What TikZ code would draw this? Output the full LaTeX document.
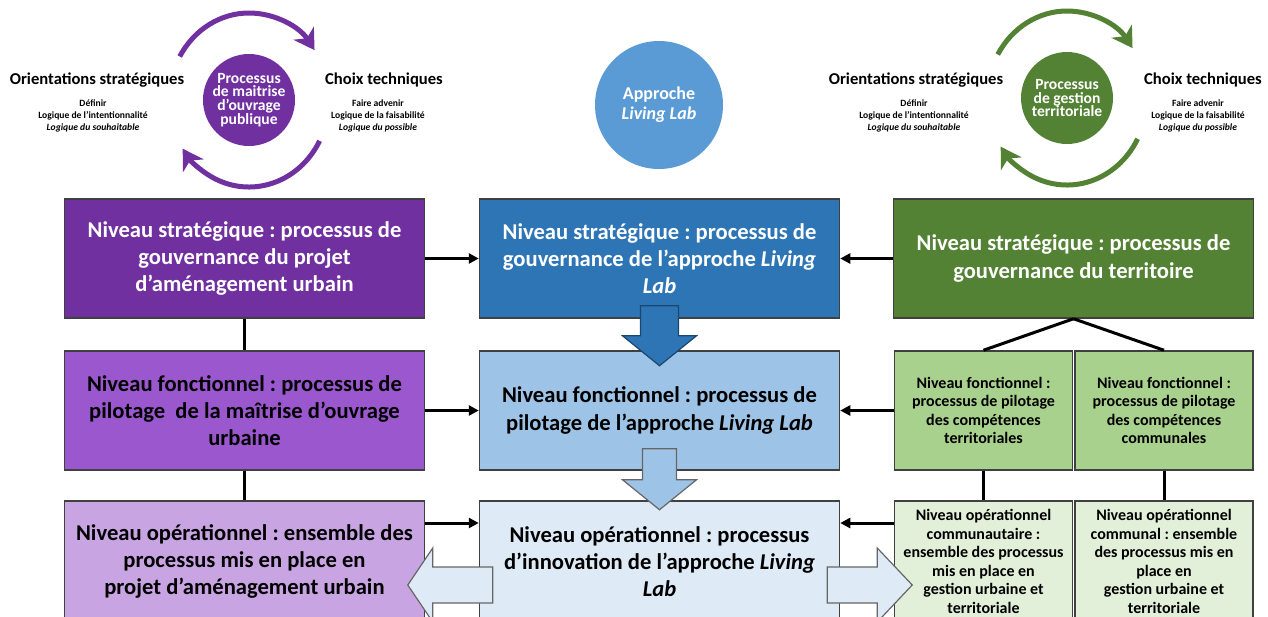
\documentclass[tikz,border=0pt]{standalone}
\usepackage{fontspec}
\setmainfont{Carlito}
\usetikzlibrary{arrows.meta}
\frenchspacing

\definecolor{violetA}{HTML}{7030A0}
\definecolor{violetB}{HTML}{9B58CE}
\definecolor{violetC}{HTML}{C9A4E2}
\definecolor{bleuA}{HTML}{2E75B6}
\definecolor{bleuB}{HTML}{9DC3E6}
\definecolor{bleuC}{HTML}{DEEBF7}
\definecolor{bleuRond}{HTML}{5B9BD5}
\definecolor{vertA}{HTML}{548235}
\definecolor{vertB}{HTML}{A9D18E}
\definecolor{vertC}{HTML}{E2F0D9}
\definecolor{trait}{HTML}{404040}

\tikzset{
  niveau/.style={draw=trait, line width=0.75pt, minimum width=180pt, minimum height=59.5pt,
    align=center, inner sep=2pt, font=\fontsize{11.3}{13.6}\selectfont\bfseries},
  petitniveau/.style={niveau, minimum width=89pt, font=\fontsize{8}{9.3}\selectfont\bfseries},
  rond/.style={circle, inner sep=0pt, text=white, align=center},
  titre/.style={font=\fontsize{8.3}{10}\selectfont\bfseries},
  note/.style={align=center, font=\fontsize{4.8}{5.8}\selectfont\bfseries},
  lien/.style={line width=1.5pt},
  fleche/.style={line width=1.5pt, -{Triangle[length=5pt,width=5pt]}},
  tour/.style={line width=2.5pt, -{Stealth[length=10pt,width=12pt,inset=3pt]}},
}

\begin{document}
\begin{tikzpicture}[x=0.5pt,y=-0.5pt]
\useasboundingbox (0,0) rectangle (1268,616);

% Cycle maitrise d'ouvrage
\node[rond, fill=violetA, minimum size=46pt, font=\fontsize{7.8}{6.9}\selectfont\bfseries] (pcirc) at (249,100) {Processus\\de maitrise\\d’ouvrage\\publique};
\node[titre] (porient) at (97,80) {Orientations stratégiques};
\node[note] (pdef) at (93,116) {Définir\\Logique de l’intentionnalité\\\textit{Logique du souhaitable}};
\node[titre] (pchoix) at (384,80) {Choix techniques};
\node[note] (pfaire) at (378,116) {Faire advenir\\Logique de la faisabilité\\\textit{Logique du possible}};
\draw[tour, violetA] ([shift={(150:40pt and 43.5pt)}]pcirc.center) arc[start angle=150, end angle=35, x radius=40pt, y radius=43.5pt];
\draw[tour, violetA] ([shift={(-28:40pt and 43.5pt)}]pcirc.center) arc[start angle=-28, end angle=-146, x radius=40pt, y radius=43.5pt];

% Approche Living Lab
\node[rond, fill=bleuRond, minimum size=64pt, font=\fontsize{9}{10}\selectfont\bfseries] (lcirc) at (659,105) {Approche\\\textit{Living Lab}};

% Cycle gestion territoriale
\node[rond, fill=vertA, minimum size=46pt, font=\fontsize{7.8}{6.9}\selectfont\bfseries] (gcirc) at (1067,98) {Processus\\de gestion\\territoriale};
\node[titre] (gorient) at (916,80) {Orientations stratégiques};
\node[note] (gdef) at (914,116) {Définir\\Logique de l’intentionnalité\\\textit{Logique du souhaitable}};
\node[titre] (gchoix) at (1203,80) {Choix techniques};
\node[note] (gfaire) at (1198,116) {Faire advenir\\Logique de la faisabilité\\\textit{Logique du possible}};
\draw[tour, vertA] ([shift={(150:40pt and 43.5pt)}]gcirc.center) arc[start angle=150, end angle=35, x radius=40pt, y radius=43.5pt];
\draw[tour, vertA] ([shift={(-28:40pt and 43.5pt)}]gcirc.center) arc[start angle=-28, end angle=-146, x radius=40pt, y radius=43.5pt];

% Colonne projet urbain
\node[niveau, fill=violetA, text=white] (P1) at (244.5,258.5) {Niveau stratégique : processus de\\gouvernance du projet\\d’aménagement urbain};
\node[niveau, fill=violetB] (P2) at (244.5,410.5) {Niveau fonctionnel : processus de\\pilotage~ de la maîtrise d’ouvrage\\urbaine};
\node[niveau, fill=violetC, minimum height=60.5pt] (P3) at (244.5,561.5) {Niveau opérationnel : ensemble des\\processus mis en place en\\projet d’aménagement urbain};

% Colonne Living Lab
\node[niveau, fill=bleuA, text=white] (B1) at (659.5,258.5) {Niveau stratégique : processus de\\gouvernance de l’approche \textit{Living}\\\textit{Lab}};
\node[niveau, fill=bleuB] (B2) at (659.5,410.5) {Niveau fonctionnel : processus de\\pilotage de l’approche \textit{Living Lab}};
\node[niveau, fill=bleuC, minimum height=60.5pt] (B3) at (659.5,561.5) {Niveau opérationnel : processus\\d’innovation de l’approche \textit{Living}\\\textit{Lab}};

% Colonne territoire
\node[niveau, fill=vertA, text=white] (G1) at (1073.5,258.5) {Niveau stratégique : processus de\\gouvernance du territoire};
\node[petitniveau, fill=vertB] (G2a) at (983.5,410.5) {Niveau fonctionnel :\\processus de pilotage\\des compétences\\territoriales};
\node[petitniveau, fill=vertB] (G2b) at (1164,410.5) {Niveau fonctionnel :\\processus de pilotage\\des compétences\\communales};
\node[petitniveau, fill=vertC, minimum height=60.5pt] (G3a) at (983.5,561.5) {Niveau opérationnel\\communautaire :\\ensemble des processus\\mis en place en\\gestion urbaine et\\territoriale};
\node[petitniveau, fill=vertC, minimum height=60.5pt] (G3b) at (1164,561.5) {Niveau opérationnel\\communal : ensemble\\des processus mis en\\place en\\gestion urbaine et\\territoriale};

% Liens verticaux
\draw[lien] (P1) -- (P2);
\draw[lien] (P2) -- (P3);
\draw[lien] (G1.south) -- (G2a.north);
\draw[lien] (G1.south) -- (G2b.north);
\draw[lien] (G2a) -- (G3a);
\draw[lien] (G2b) -- (G3b);

% Fleches vers le Living Lab
\draw[fleche] (P1) -- (B1);
\draw[fleche] (P2) -- (B2);
\draw[fleche] (P3.east |- 0,523) -- (B3.west |- 0,523);
\draw[fleche] (G1) -- (B1);
\draw[fleche] (G2a) -- (B2);
\draw[fleche] (G3a.west |- 0,523) -- (B3.east |- 0,523);

% Grosses fleches
\draw[draw=bleuA!60!black, fill=bleuA, line width=0.6pt] ([shift={(-19,-13)}]B1.south) -- ([shift={(19,-13)}]B1.south) -- ([shift={(19,17)}]B1.south) -- ([shift={(37,17)}]B1.south) -- ([shift={(0,47)}]B1.south) -- ([shift={(-37,17)}]B1.south) -- ([shift={(-19,17)}]B1.south) -- cycle;
\draw[draw=trait!80, fill=bleuB, line width=0.6pt] ([shift={(-17,-22)}]B2.south) -- ([shift={(17,-22)}]B2.south) -- ([shift={(17,9)}]B2.south) -- ([shift={(37,9)}]B2.south) -- ([shift={(0,39)}]B2.south) -- ([shift={(-37,9)}]B2.south) -- ([shift={(-17,9)}]B2.south) -- cycle;
\draw[draw=trait!80, fill=bleuC, line width=0.6pt] ([shift={(14,5.5)}]B3.west) -- ([shift={(14,41.5)}]B3.west) -- ([shift={(-46,41.5)}]B3.west) -- ([shift={(-46,60.5)}]B3.west) -- ([shift={(-71,23.5)}]B3.west) -- ([shift={(-46,-13.5)}]B3.west) -- ([shift={(-46,5.5)}]B3.west) -- cycle;
\draw[draw=trait!80, fill=bleuC, line width=0.6pt] ([shift={(-13,5.5)}]B3.east) -- ([shift={(37,5.5)}]B3.east) -- ([shift={(37,-13.5)}]B3.east) -- ([shift={(72,23.5)}]B3.east) -- ([shift={(37,60.5)}]B3.east) -- ([shift={(37,41.5)}]B3.east) -- ([shift={(-13,41.5)}]B3.east) -- cycle;
\end{tikzpicture}
\end{document}
